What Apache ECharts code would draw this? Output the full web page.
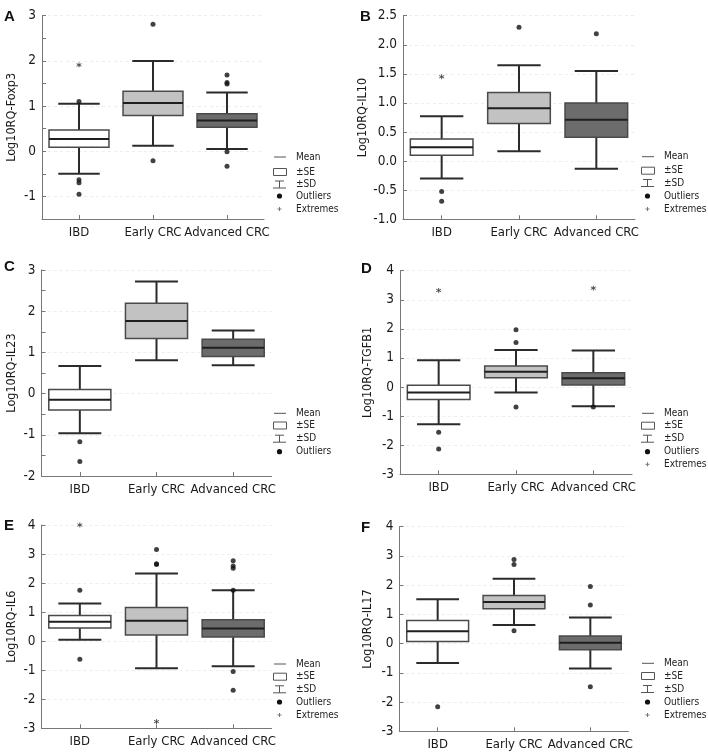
<!DOCTYPE html>
<html><head><meta charset="utf-8">
<script src="https://cdn.jsdelivr.net/npm/echarts@6/dist/echarts.min.js"></script>
<style>html,body{margin:0;padding:0;background:#fff}#c{width:708px;height:753px}</style>
</head><body><div id="c"></div>
<script>
// ---------------- data ----------------
const categories = ['IBD', 'Early CRC', 'Advanced CRC'];

// box stats per category: [lower SD whisker, lower SE, mean, upper SE, upper SD whisker]
const foxp3Box = [[-0.50, 0.09, 0.27, 0.47, 1.05], [0.12, 0.79, 1.07, 1.33, 2.00], [0.05, 0.53, 0.68, 0.83, 1.30]];
const foxp3Outliers = [[0, 1.10], [0, -0.63], [0, -0.70], [0, -0.95], [1, 2.81], [1, -0.21], [2, 1.69], [2, 1.52], [2, 1.49], [2, -0.01], [2, -0.33]];
const foxp3Extremes = [[0, 1.91]];

const il10Box = [[-0.30, 0.10, 0.24, 0.38, 0.77], [0.17, 0.645, 0.91, 1.18, 1.65], [-0.13, 0.41, 0.71, 1.00, 1.55]];
const il10Outliers = [[0, -0.52], [0, -0.69], [1, 2.30], [2, 2.19]];
const il10Extremes = [[0, 1.45]];

const il23Box = [[-0.96, -0.40, -0.15, 0.10, 0.67], [0.81, 1.34, 1.76, 2.19, 2.72], [0.69, 0.90, 1.11, 1.32, 1.53]];
const il23Outliers = [[0, -1.17], [0, -1.65]];
const il23Extremes = [];

const tgfb1Box = [[-1.28, -0.43, -0.19, 0.06, 0.92], [-0.19, 0.32, 0.53, 0.72, 1.27], [-0.66, 0.07, 0.30, 0.49, 1.26]];
const tgfb1Outliers = [[0, -1.55], [0, -2.13], [1, 1.97], [1, 1.53], [1, -0.69], [2, -0.69]];
const tgfb1Extremes = [[0, 3.32], [2, 3.40]];

const il6Box = [[0.05, 0.45, 0.67, 0.88, 1.30], [-0.93, 0.21, 0.70, 1.16, 2.33], [-0.86, 0.14, 0.44, 0.74, 1.75]];
const il6Outliers = [[0, 1.75], [0, -0.62], [1, 3.16], [1, 2.67], [1, 2.64], [2, 2.77], [2, 2.59], [2, 2.51], [2, 1.75], [2, -1.04], [2, -1.69]];
const il6Extremes = [[0, 4.0], [1, -2.77]];

const il17Box = [[-0.66, 0.07, 0.42, 0.79, 1.52], [0.64, 1.19, 1.42, 1.65, 2.22], [-0.85, -0.21, 0.03, 0.26, 0.89]];
const il17Outliers = [[0, -2.16], [1, 2.88], [1, 2.71], [1, 0.44], [2, 1.95], [2, 1.32], [2, -1.48]];
const il17Extremes = [];

// y-axis ranges [min, max, tick step]
const foxp3Axis = [-1.5, 3, 0.5];
const il10Axis = [-1.0, 2.5, 0.5];
const il23Axis = [-2, 3, 1];
const tgfb1Axis = [-3, 4, 1];
const il6Axis = [-3, 4, 1];
const il17Axis = [-3, 4, 1];

const legendLabels = ['Mean', '\u00b1SE', '\u00b1SD', 'Outliers', 'Extremes'];

// ---------------- layout / style ----------------
const FONT = "'DejaVu Sans Condensed', 'Liberation Sans', sans-serif";
const boxFills = ['#ffffff', '#c2c2c2', '#6c6c6c'];

const panels = [
  {letter: 'A', name: 'Log10RQ-Foxp3', box: foxp3Box, out: foxp3Outliers, ext: foxp3Extremes, axis: foxp3Axis,
   grid: {left: 42, top: 15.7, width: 222, height: 203.3}, nameGap: 24, labelInt: true, minor: false,
   legend: {x: 273, ys: [157, 172, 184.5, 196, 209]}, letterPos: [4, 17]},
  {letter: 'B', name: 'Log10RQ-IL10', box: il10Box, out: il10Outliers, ext: il10Extremes, axis: il10Axis,
   grid: {left: 403, top: 15.7, width: 232, height: 203.6}, nameGap: 27, decimals: 1, minor: false,
   legend: {x: 641, ys: [156.7, 170.7, 183, 196, 209]}, letterPos: [360, 17]},
  {letter: 'C', name: 'Log10RQ-IL23', box: il23Box, out: il23Outliers, ext: il23Extremes, axis: il23Axis,
   grid: {left: 41.5, top: 270, width: 230, height: 206}, nameGap: 23.5, minor: true,
   legend: {x: 273, ys: [413.3, 425.5, 438.7, 451.7]}, letterPos: [4, 267]},
  {letter: 'D', name: 'Log10RQ-TGFB1', box: tgfb1Box, out: tgfb1Outliers, ext: tgfb1Extremes, axis: tgfb1Axis,
   grid: {left: 400, top: 270.7, width: 232, height: 203.6}, nameGap: 25.5, minor: false,
   legend: {x: 641, ys: [413.3, 425.7, 438.7, 451.7, 464.3]}, letterPos: [361, 269]},
  {letter: 'E', name: 'Log10RQ-IL6', box: il6Box, out: il6Outliers, ext: il6Extremes, axis: il6Axis,
   grid: {left: 41.5, top: 525, width: 230, height: 203.3}, nameGap: 23.5, minor: false,
   legend: {x: 273, ys: [664, 676.7, 689.3, 702, 715]}, letterPos: [4, 526]},
  {letter: 'F', name: 'Log10RQ-IL17', box: il17Box, out: il17Outliers, ext: il17Extremes, axis: il17Axis,
   grid: {left: 399.5, top: 526.7, width: 229, height: 204.6}, nameGap: 25.5, minor: false,
   legend: {x: 641, ys: [663.3, 676, 689, 702, 715]}, letterPos: [361, 527.5]}
];

function renderBox(params, api) {
  const i = api.value(0);
  const lo = api.coord([i, api.value(1)]);
  const q1 = api.coord([i, api.value(2)]);
  const md = api.coord([i, api.value(3)]);
  const q3 = api.coord([i, api.value(4)]);
  const hi = api.coord([i, api.value(5)]);
  const band = api.size([1, 0])[0];
  const bw = band * 0.81, cw = band * 0.56;
  const x = lo[0];
  const ws = {stroke: '#2b2b2b', lineWidth: 2};
  return {type: 'group', children: [
    {type: 'line', shape: {x1: x, y1: hi[1], x2: x, y2: q3[1]}, style: ws},
    {type: 'line', shape: {x1: x, y1: q1[1], x2: x, y2: lo[1]}, style: ws},
    {type: 'line', shape: {x1: x - cw / 2, y1: hi[1], x2: x + cw / 2, y2: hi[1]}, style: ws},
    {type: 'line', shape: {x1: x - cw / 2, y1: lo[1], x2: x + cw / 2, y2: lo[1]}, style: ws},
    {type: 'rect', shape: {x: x - bw / 2, y: q3[1], width: bw, height: q1[1] - q3[1]},
     style: {fill: boxFills[i], stroke: '#4a4a4a', lineWidth: 1.5}},
    {type: 'line', shape: {x1: x - bw / 2, y1: md[1], x2: x + bw / 2, y2: md[1]}, style: {stroke: '#1e1e1e', lineWidth: 2}}
  ]};
}

const grids = [], xAxes = [], yAxes = [], series = [], graphics = [];
const ASTERISK = 'path://M0,-5L0,5M-4.33,-2.5L4.33,2.5M-4.33,2.5L4.33,-2.5';

panels.forEach((p, k) => {
  grids.push(Object.assign({containLabel: false}, p.grid));
  xAxes.push({
    type: 'category', gridIndex: k, data: categories, boundaryGap: true,
    axisLine: {show: true, onZero: false, lineStyle: {color: '#777', width: 1}},
    axisTick: {show: true, alignWithLabel: true, inside: true, length: 4, lineStyle: {color: '#777'}},
    axisLabel: {show: true, interval: 0, color: '#1a1a1a', fontSize: 13, fontFamily: FONT, margin: 7},
    splitLine: {show: false}
  });
  const [mn, mx, step] = p.axis;
  yAxes.push({
    type: 'value', gridIndex: k, min: mn, max: mx, interval: step,
    name: p.name, nameLocation: 'middle', nameGap: p.nameGap, nameRotate: 90,
    nameTextStyle: {color: '#1a1a1a', fontSize: 12.5, fontFamily: FONT},
    axisLine: {show: true, lineStyle: {color: '#777', width: 1}},
    axisTick: {show: true, inside: true, length: 4, lineStyle: {color: '#777'}},
    minorTick: {show: p.minor, splitNumber: 2, length: 4, lineStyle: {color: '#777'}},
    axisLabel: {show: true, color: '#1a1a1a', fontSize: 13.5, fontFamily: FONT, margin: 6,
      formatter: (v) => {
        if (p.labelInt) return Math.abs(v - Math.round(v)) < 1e-9 ? String(Math.round(v)) : '';
        if (p.decimals) return v.toFixed(p.decimals);
        return String(v);
      }},
    splitLine: {show: true, lineStyle: {type: [3, 3], width: 1,
      color: p.labelInt ? ['rgba(0,0,0,0)', '#ececec'] : '#ededed'}}
  });
  series.push({
    type: 'custom', xAxisIndex: k, yAxisIndex: k, renderItem: renderBox,
    encode: {x: 0, y: [1, 2, 3, 4, 5]},
    data: p.box.map((b, i) => [i].concat(b)), z: 2, silent: true
  });
  series.push({
    type: 'scatter', xAxisIndex: k, yAxisIndex: k, symbol: 'circle', symbolSize: 5,
    itemStyle: {color: '#111'}, data: p.out, z: 3, silent: true
  });
  if (p.ext.length) {
    series.push({
      type: 'scatter', xAxisIndex: k, yAxisIndex: k, symbol: ASTERISK, symbolSize: 5,
      itemStyle: {color: '#333', borderColor: '#333', borderWidth: 1}, data: p.ext, z: 3, silent: true
    });
  }
  graphics.push({type: 'text', x: p.letterPos[0], y: p.letterPos[1],
    style: {text: p.letter, font: "bold 15px 'Liberation Sans', Arial, sans-serif", fill: '#111', verticalAlign: 'middle'}});
  const x0 = p.legend.x, ys = p.legend.ys, tx = x0 + 23;
  const lc = '#555';
  const lg = [];
  lg.push({type: 'line', shape: {x1: x0 + 1, y1: ys[0], x2: x0 + 13, y2: ys[0]}, style: {stroke: lc, lineWidth: 1}});
  lg.push({type: 'rect', shape: {x: x0 + 0.5, y: ys[1] - 3.5, width: 13, height: 7}, style: {fill: '#fff', stroke: lc, lineWidth: 1}});
  lg.push({type: 'line', shape: {x1: x0 + 2, y1: ys[2] - 3.5, x2: x0 + 11, y2: ys[2] - 3.5}, style: {stroke: lc, lineWidth: 1}});
  lg.push({type: 'line', shape: {x1: x0 + 6.5, y1: ys[2] - 3.5, x2: x0 + 6.5, y2: ys[2] + 3.5}, style: {stroke: lc, lineWidth: 1}});
  lg.push({type: 'line', shape: {x1: x0, y1: ys[2] + 3.5, x2: x0 + 13, y2: ys[2] + 3.5}, style: {stroke: lc, lineWidth: 1}});
  lg.push({type: 'circle', shape: {cx: x0 + 6.5, cy: ys[3], r: 2.6}, style: {fill: '#111'}});
  if (ys.length > 4) {
    lg.push({type: 'line', shape: {x1: x0 + 4.5, y1: ys[4], x2: x0 + 8.5, y2: ys[4]}, style: {stroke: '#777', lineWidth: 1}});
    lg.push({type: 'line', shape: {x1: x0 + 6.5, y1: ys[4] - 2, x2: x0 + 6.5, y2: ys[4] + 2}, style: {stroke: '#777', lineWidth: 1}});
  }
  ys.forEach((y, j) => {
    lg.push({type: 'text', x: tx, y: y,
      style: {text: legendLabels[j], font: "10px " + FONT, fill: '#222', verticalAlign: 'middle'}});
  });
  graphics.push({type: 'group', children: lg});
});

const chart = echarts.init(document.getElementById('c'), null, {renderer: 'canvas'});
chart.setOption({
  animation: false,
  backgroundColor: '#ffffff',
  textStyle: {fontFamily: FONT},
  grid: grids, xAxis: xAxes, yAxis: yAxes, series: series, graphic: graphics
});
</script>
</body></html>
